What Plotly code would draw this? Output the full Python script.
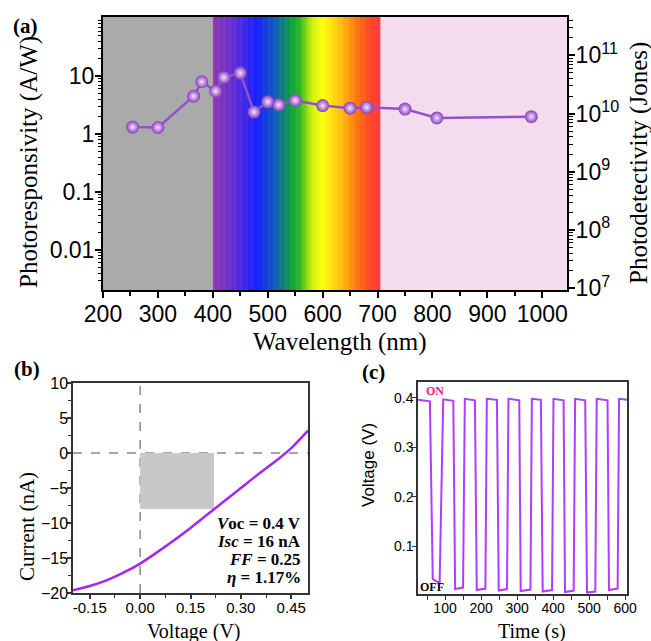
import plotly.graph_objects as go
import numpy as np

W, H = 651, 641

# ---------------- data ----------------
# (a) spectral photoresponsivity
wavelength_nm = [254, 300, 365, 380, 405, 420, 450, 475, 500, 520, 550, 600, 650, 680, 750, 808, 980]
responsivity = [1.32, 1.30, 4.5, 8.0, 5.5, 9.5, 11.3, 2.4, 3.6, 3.2, 3.8, 3.1, 2.8, 2.9, 2.7, 1.9, 2.0]
x_ticks_a = [200, 300, 400, 500, 600, 700, 800, 900, 1000]
y_ticks_a = [0.01, 0.1, 1, 10]
y_ticklabels_a = ["0.01", "0.1", "1", "10"]
d_ticks = [1e7, 1e8, 1e9, 1e10, 1e11]
d_ticklabels = ["10<sup>7</sup>", "10<sup>8</sup>", "10<sup>9</sup>", "10<sup>10</sup>", "10<sup>11</sup>"]

# background bands (a)
uv_band = (200, 400)
vis_band = (400, 705)
ir_band = (705, 1045)
spec_nm = [400, 440, 480, 515, 542, 558, 580, 600, 630, 660, 685, 705]
spec_col = ['#8a2eaa', '#5522d6', '#0a14ff', '#0058b0', '#009a35', '#1eb214',
            '#c8ee00', '#ffff00', '#ffc200', '#ff7400', '#ff3c18', '#ff3232']

# (b) I-V curve
voltage_iv = [-0.20, -0.15, -0.10, -0.05, 0.00, 0.05, 0.10, 0.15, 0.20, 0.25, 0.30, 0.35, 0.40, 0.45, 0.50]
current_iv = [-19.6, -19.0, -18.2, -17.1, -15.8, -14.2, -12.5, -10.7, -8.8, -6.9, -5.0, -3.1, -1.3, 0.7, 3.2]
v_mp, i_mp = 0.22, -8.0
x_ticks_b = [-0.15, 0.0, 0.15, 0.30, 0.45]
x_ticklabels_b = ["-0.15", "0.00", "0.15", "0.30", "0.45"]
pv_lines = ["<i>V</i>oc = 0.4 V", "<i>Isc</i> = 16 nA", "<i>FF</i> = 0.25", "<i>η</i> = 1.17%"]

# (c) photovoltage switching
time_s = [25, 58, 66, 85, 95, 123, 128, 150, 155, 183, 188, 212, 216, 244, 249, 272, 276, 306,
          310, 337, 341, 366, 371, 397, 401, 429, 433, 457, 461, 489, 494, 517, 521, 551,
          555, 579, 583, 605]
voc_v = [0.396, 0.393, 0.033, 0.025, 0.397, 0.394, 0.013, 0.016, 0.398, 0.395, 0.011, 0.014,
         0.398, 0.396, 0.010, 0.013, 0.398, 0.395, 0.009, 0.012, 0.398, 0.396, 0.008, 0.011,
         0.398, 0.395, 0.007, 0.010, 0.398, 0.395, 0.006, 0.008, 0.398, 0.395, 0.011, 0.014,
         0.398, 0.396]
x_ticks_c = [100, 200, 300, 400, 500, 600]
y_ticks_c = [0.1, 0.2, 0.3, 0.4]

# ---------------- helpers ----------------
def px(x):
    return x / W

def py(y):
    return 1 - y / H

SANS = "Liberation Sans, Arial, sans-serif"
SERIF = "Liberation Serif, Times New Roman, serif"

def hex2rgb(h):
    h = h.lstrip('#')
    return np.array([int(h[i:i + 2], 16) for i in (0, 2, 4)], dtype=float)

spec_rgb = np.array([hex2rgb(c) for c in spec_col])

fig = go.Figure()

# (a)
fig.add_trace(go.Scatter(
    x=wavelength_nm, y=responsivity, mode='lines+markers', xaxis='x', yaxis='y',
    line=dict(color='#9650c8', width=2.5),
    marker=dict(size=13, color='#8a3cc0', gradient=dict(type='radial', color='#f2e6fb'),
                line=dict(width=0)),
    showlegend=False))
# invisible trace for the right axis
fig.add_trace(go.Scatter(x=[wavelength_nm[0]], y=[d_ticks[2]], xaxis='x', yaxis='y4',
                         mode='markers', marker=dict(opacity=0), showlegend=False,
                         hoverinfo='skip'))

# (b)
fig.add_trace(go.Scatter(
    x=voltage_iv, y=current_iv, mode='lines', xaxis='x2', yaxis='y2',
    line=dict(color='#a426f2', width=2.5, shape='spline', smoothing=0.6), showlegend=False))

# (c)
fig.add_trace(go.Scatter(
    x=time_s, y=voc_v, mode='lines', xaxis='x3', yaxis='y3',
    line=dict(color='#b03cff', width=2), showlegend=False))

shapes = []
# (a) background
shapes.append(dict(type='rect', xref='x', yref='y domain', x0=uv_band[0], x1=uv_band[1], y0=0, y1=1,
                   fillcolor='#aaaaaa', line=dict(width=0), layer='below'))
shapes.append(dict(type='rect', xref='x', yref='y domain', x0=ir_band[0], x1=ir_band[1], y0=0, y1=1,
                   fillcolor='#f4dcee', line=dict(width=0), layer='below'))
for nm in np.arange(vis_band[0], vis_band[1], 1.0):
    rgb = [np.interp(nm + 0.5, spec_nm, spec_rgb[:, k]) for k in range(3)]
    col = 'rgb(%d,%d,%d)' % tuple(int(round(v)) for v in rgb)
    shapes.append(dict(type='rect', xref='x', yref='y domain', x0=nm, x1=min(nm + 1.6, vis_band[1]),
                       y0=0, y1=1, fillcolor=col, line=dict(width=0), layer='below'))

# (b) max power rectangle + dashed zero lines
shapes.append(dict(type='rect', xref='x2', yref='y2', x0=0, x1=v_mp, y0=i_mp, y1=0,
                   fillcolor='#c8c8c8', line=dict(width=0), layer='below'))
shapes.append(dict(type='line', xref='x2', yref='y2 domain', x0=0, x1=0, y0=0, y1=1,
                   line=dict(color='#888888', width=1.5, dash='dash'), layer='below'))
shapes.append(dict(type='line', xref='x2 domain', yref='y2', x0=0, x1=1, y0=0, y1=0,
                   line=dict(color='#888888', width=1.5, dash='dash'), layer='below'))

# ---------------- annotations ----------------
ann = []

def text(x, y, s, size, font=SERIF, angle=0, color='black', xanchor='center', yanchor='middle'):
    ann.append(dict(x=px(x), y=py(y), xref='paper', yref='paper', text=s, showarrow=False,
                    textangle=angle, xanchor=xanchor, yanchor=yanchor,
                    font=dict(family=font, size=size, color=color)))

text(25, 26, "<b>(a)</b>", 21)
text(27, 369, "<b>(b)</b>", 21)
text(373, 372, "<b>(c)</b>", 21)
text(29, 162, "Photoresponsivity (A/W)", 25, angle=-90)
text(639, 163, "Photodetectivity (Jones)", 25, angle=-90)
text(340, 342, "Wavelength (nm)", 25)
text(27, 527, "Current (nA)", 21, angle=-90)
text(194, 631, "Voltage (V)", 20)
text(368, 465, "Voltage (V)", 17, font=SANS, angle=-90)
text(532, 631, "Time (s)", 20)
for i, s in enumerate(pv_lines):
    text(303, 523 + i * 18, "<b>" + s + "</b>", 17, xanchor='right')
text(424, 391, "<b>ON</b>", 12, color='#e8208c', xanchor='left')
text(418, 587, "<b>OFF</b>", 12, xanchor='left')

minor_log = [m * 10.0 ** k for k in range(-3, 12) for m in range(2, 10)]

axis_common = dict(showgrid=False, zeroline=False, ticks='outside', showline=True, automargin=False)

fig.update_layout(
    width=W, height=H, autosize=False,
    margin=dict(l=0, r=0, t=0, b=0),
    paper_bgcolor='white', plot_bgcolor='rgba(0,0,0,0)',
    shapes=shapes, annotations=ann,
    xaxis=dict(axis_common, domain=[px(103), px(567)], anchor='y', range=[200, 1045],
               tickmode='array', tickvals=x_ticks_a, ticklen=6, tickwidth=2, linewidth=2,
               linecolor='black', tickcolor='black', mirror=True,
               tickfont=dict(family=SANS, size=23, color='black'),
               minor=dict(tick0=250, dtick=100, ticks='outside', ticklen=4, tickwidth=1.5, tickcolor='black')),
    yaxis=dict(axis_common, domain=[py(290), py(17)], anchor='x', type='log', range=[-2.69, 2.02],
               tickmode='array', tickvals=y_ticks_a, ticktext=y_ticklabels_a, ticklen=6, tickwidth=2,
               linewidth=2, linecolor='black', tickcolor='black',
               tickfont=dict(family=SANS, size=23, color='black'),
               minor=dict(tickmode='array', tickvals=minor_log, ticks='outside', ticklen=3.5,
                          tickwidth=1.2, tickcolor='black')),
    yaxis4=dict(axis_common, overlaying='y', side='right', anchor='x', type='log', range=[6.97, 11.66],
                tickmode='array', tickvals=d_ticks, ticktext=d_ticklabels, ticklen=6, tickwidth=2,
                linewidth=2, linecolor='black', tickcolor='black',
                tickfont=dict(family=SANS, size=23, color='black'),
                minor=dict(tickmode='array', tickvals=minor_log, ticks='outside', ticklen=3.5,
                           tickwidth=1.2, tickcolor='black')),
    xaxis2=dict(axis_common, domain=[px(73), px(308)], anchor='y2', range=[-0.2, 0.5],
                tickmode='array', tickvals=x_ticks_b, ticktext=x_ticklabels_b, ticklen=4, tickwidth=1.5,
                linewidth=1.5, linecolor='#333333', tickcolor='#333333', mirror=True,
                tickfont=dict(family=SANS, size=15, color='black'),
                minor=dict(tick0=-0.075, dtick=0.15, ticks='outside', ticklen=3, tickwidth=1.2, tickcolor='#333333')),
    yaxis2=dict(axis_common, domain=[py(593), py(383)], anchor='x2', range=[-20, 10],
                tickmode='linear', tick0=-20, dtick=5, ticklen=4, tickwidth=1.5,
                linewidth=1.5, linecolor='#333333', tickcolor='#333333', mirror=True,
                tickfont=dict(family=SANS, size=16, color='black'),
                minor=dict(tick0=-17.5, dtick=5, ticks='outside', ticklen=3, tickwidth=1.2, tickcolor='#333333')),
    xaxis3=dict(axis_common, domain=[px(418), px(627)], anchor='y3', range=[25, 605],
                tickmode='array', tickvals=x_ticks_c, ticklen=4, tickwidth=1.2,
                linewidth=1.5, linecolor='#333333', tickcolor='#333333', mirror=True,
                tickfont=dict(family=SANS, size=14, color='black'),
                minor=dict(tick0=50, dtick=100, ticks='outside', ticklen=4, tickwidth=1.2, tickcolor='#333333')),
    yaxis3=dict(axis_common, domain=[py(594), py(382)], anchor='x3', range=[0.003, 0.432],
                tickmode='array', tickvals=y_ticks_c, ticktext=["0.1", "0.2", "0.3", "0.4"],
                ticklen=4, tickwidth=1.2,
                linewidth=1.5, linecolor='#333333', tickcolor='#333333', mirror=True,
                tickfont=dict(family=SANS, size=14, color='black')),
)

# pull tick labels a bit closer to the axes (if supported)
for ax in ['xaxis', 'yaxis', 'yaxis4', 'xaxis2', 'yaxis2', 'xaxis3', 'yaxis3']:
    try:
        fig.layout[ax].ticklabelstandoff = -4
    except Exception:
        pass

fig.write_html("out.html", config={'displayModeBar': False},
               post_script="document.body.style.margin='0';document.body.style.overflow='hidden';")
